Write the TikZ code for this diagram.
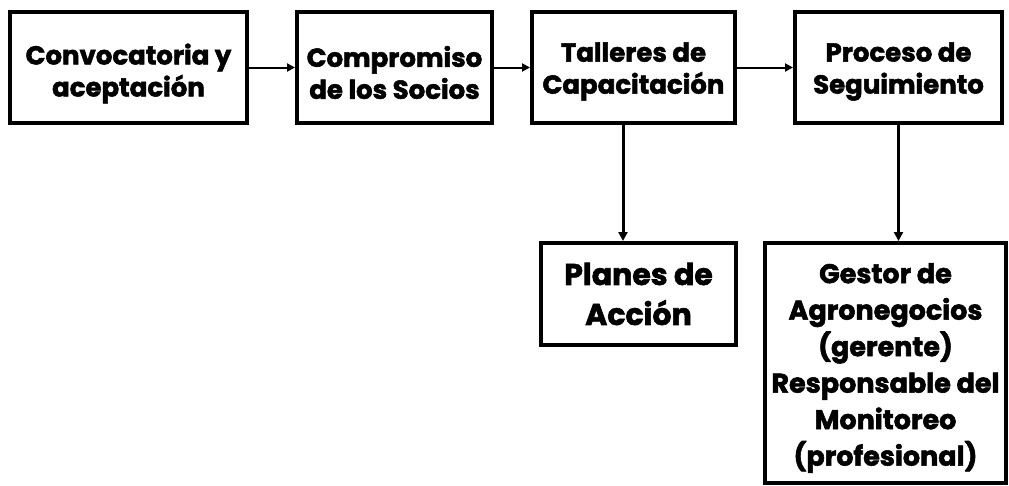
\documentclass[tikz,border=0pt]{standalone}
\usepackage{fontspec}
\setmainfont{Poppins}[BoldFeatures={FakeBold=2}]
\usetikzlibrary{arrows.meta}
\begin{document}
\begin{tikzpicture}[x=1pt,y=-1pt,
  frame/.style={draw=black,line width=4pt,inner sep=0pt},
  txt/.style={align=center,inner sep=0pt,font=\bfseries\fontsize{26}{32}\selectfont},
  planebox/.style={draw=black,line width=4pt,inner sep=0pt,align=center,font=\bfseries\fontsize{30}{40}\selectfont},
  bigtxt/.style={align=center,inner sep=0pt,font=\bfseries\fontsize{27}{36.5}\selectfont},
  conn/.style={line width=2pt,-{Triangle[length=8pt,width=8pt]}},
  vconn/.style={line width=3pt,-{Triangle[length=9pt,width=9pt]}}]
\useasboundingbox (0,0) rectangle (1009,485);
\node[frame,minimum width=237pt,minimum height=111pt,label={[txt,yshift=-6pt]center:{Convocatoria y\\aceptación}}] (b1) at (128.5,67.5) {};
\node[frame,minimum width=195pt,minimum height=111pt,label={[txt,yshift=-5pt]center:{Compromiso\\de los Socios}}] (b2) at (394.5,67.5) {};
\node[frame,minimum width=203pt,minimum height=111pt,label={[txt,yshift=-4pt]center:{Talleres de\\Capacitación}}] (b3) at (633.5,67.5) {};
\node[frame,minimum width=207pt,minimum height=111pt,label={[txt,yshift=-4pt]center:{Proceso de\\Seguimiento}}] (b4) at (898.5,67.5) {};
\node[planebox,minimum width=195pt,minimum height=102pt] (p) at (638.5,294) {Planes de\\Acción};
\node[frame,minimum width=241pt,minimum height=240pt,label={[bigtxt,yshift=-5pt]center:{Gestor de\\Agronegocios\\(gerente)\\Responsable del\\Monitoreo\\(profesional)}}] (g) at (885.5,363) {};
\coordinate (a1) at (623,123);
\draw[conn] (b1) -- (b2);
\draw[conn] (b2) -- (b3);
\draw[conn] (b3) -- (b4);
\draw[vconn] (b3.south -| a1) -- (p.north -| a1);
\draw[vconn] (b4.south) -- (b4.south |- g.north);
\end{tikzpicture}
\end{document}
